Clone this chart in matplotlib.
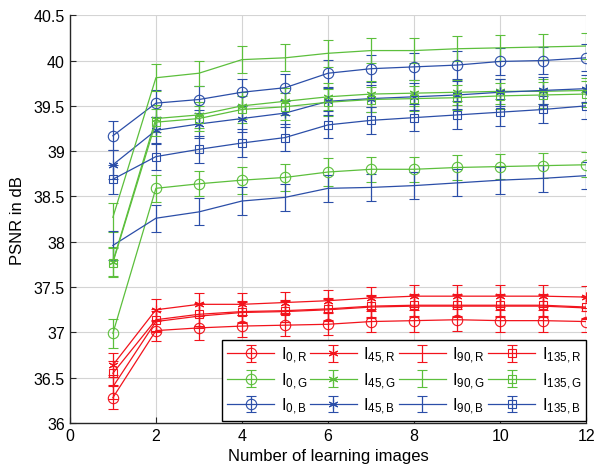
import matplotlib
matplotlib.use('Agg')
import matplotlib.pyplot as plt
import numpy as np

plt.rcParams['font.family'] = ['Liberation Sans', 'DejaVu Sans']
plt.rcParams['mathtext.fontset'] = 'custom'
plt.rcParams['mathtext.rm'] = 'Liberation Sans'
plt.rcParams['mathtext.it'] = 'Liberation Sans'

# number of learning images
n_images = [1, 2, 3, 4, 5, 6, 7, 8, 9, 10, 11, 12]

# PSNR per polarisation angle / colour channel
psnr_0_r = [36.28, 37.02, 37.05, 37.07, 37.08, 37.09, 37.12, 37.13, 37.14, 37.13, 37.13, 37.12]
psnr_45_r = [36.64, 37.25, 37.31, 37.31, 37.33, 37.35, 37.38, 37.40, 37.40, 37.40, 37.40, 37.39]
psnr_90_r = [36.40, 37.12, 37.18, 37.22, 37.23, 37.25, 37.28, 37.29, 37.29, 37.29, 37.29, 37.27]
psnr_135_r = [36.55, 37.14, 37.20, 37.23, 37.24, 37.26, 37.29, 37.30, 37.30, 37.30, 37.30, 37.28]

psnr_0_g = [36.99, 38.59, 38.64, 38.68, 38.71, 38.77, 38.80, 38.80, 38.82, 38.83, 38.84, 38.85]
psnr_45_g = [37.78, 39.36, 39.40, 39.50, 39.55, 39.60, 39.63, 39.64, 39.65, 39.66, 39.66, 39.67]
psnr_90_g = [38.27, 39.81, 39.86, 40.01, 40.03, 40.08, 40.11, 40.11, 40.13, 40.14, 40.15, 40.16]
psnr_135_g = [37.77, 39.32, 39.36, 39.46, 39.49, 39.54, 39.57, 39.58, 39.59, 39.61, 39.62, 39.63]

psnr_0_b = [39.17, 39.53, 39.57, 39.65, 39.70, 39.86, 39.91, 39.93, 39.95, 39.99, 40.00, 40.03]
psnr_45_b = [38.85, 39.23, 39.30, 39.36, 39.42, 39.55, 39.58, 39.60, 39.62, 39.65, 39.67, 39.69]
psnr_90_b = [37.96, 38.26, 38.33, 38.45, 38.49, 38.59, 38.60, 38.62, 38.65, 38.68, 38.70, 38.73]
psnr_135_b = [38.69, 38.94, 39.02, 39.09, 39.15, 39.29, 39.34, 39.37, 39.40, 39.43, 39.46, 39.50]

# error bar half-widths (std dev)
err_r = [0.13, 0.12, 0.13, 0.12, 0.12, 0.12, 0.12, 0.12, 0.12, 0.12, 0.12, 0.12]
err_g = [0.16, 0.15, 0.14, 0.15, 0.15, 0.15, 0.14, 0.14, 0.14, 0.14, 0.14, 0.14]
err_b = [0.16, 0.15, 0.15, 0.15, 0.15, 0.15, 0.15, 0.15, 0.15, 0.15, 0.15, 0.15]

angles = ['0', '45', '90', '135']
markers = ['o', (6, 2, 0), 'none', 's']
msizes = [7.5, 7, 0, 6]
channels = ['R', 'G', 'B']
colors = {'R': '#f2131c', 'G': '#5cbf3c', 'B': '#2b4ea8'}
errs = {'R': err_r, 'G': err_g, 'B': err_b}
series = {
    ('0', 'R'): psnr_0_r, ('45', 'R'): psnr_45_r, ('90', 'R'): psnr_90_r, ('135', 'R'): psnr_135_r,
    ('0', 'G'): psnr_0_g, ('45', 'G'): psnr_45_g, ('90', 'G'): psnr_90_g, ('135', 'G'): psnr_135_g,
    ('0', 'B'): psnr_0_b, ('45', 'B'): psnr_45_b, ('90', 'B'): psnr_90_b, ('135', 'B'): psnr_135_b,
}

fig = plt.figure(figsize=(5.97, 4.77), dpi=100)
ax = fig.add_axes([0.117, 0.111, 0.865, 0.855])

for a, m, ms in zip(angles, markers, msizes):
    for c in channels:
        ax.errorbar(n_images, series[(a, c)], yerr=errs[c], color=colors[c],
                    marker=m, markersize=ms, mfc='none', mew=0.8, lw=0.9,
                    elinewidth=0.9, capsize=3.5, capthick=0.9,
                    label=r'$\mathregular{I_{%s,%s}}$' % (a, c))

ax.set_xlim(0, 12)
ax.set_ylim(36, 40.5)
ax.set_xticks(np.arange(0, 13, 2))
ax.set_yticks(np.arange(36, 40.51, 0.5))
ax.set_yticklabels(['36', '36.5', '37', '37.5', '38', '38.5', '39', '39.5', '40', '40.5'])
ax.tick_params(direction='in', labelsize=11.5, length=4, color='#262626')
ax.grid(True, color='#d4d4d4', lw=0.8)
ax.set_axisbelow(True)
for s in ['top', 'right']:
    ax.spines[s].set_visible(False)
for s in ['left', 'bottom']:
    ax.spines[s].set_color('#262626')
    ax.spines[s].set_linewidth(1.0)

ax.set_xlabel('Number of learning images', fontsize=12, labelpad=4)
ax.set_ylabel('PSNR in dB', fontsize=12, labelpad=6)

leg = ax.legend(loc='lower left', bbox_to_anchor=(0.295, 0.005, 0.705, 0.198),
                mode='expand', ncol=4, fontsize=12, fancybox=False,
                edgecolor='black', framealpha=1, handlelength=2.8,
                handletextpad=0.4, borderpad=0.3, labelspacing=0.3,
                borderaxespad=0)
leg.get_frame().set_linewidth(1.0)

fig.savefig('out.png', dpi=100)
